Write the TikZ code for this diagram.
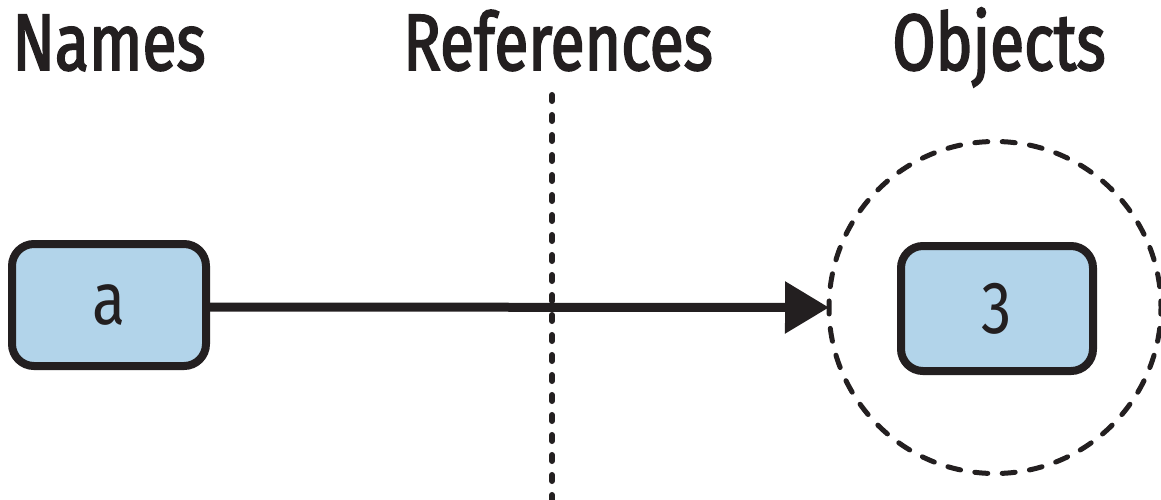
\documentclass[tikz,border=0pt]{standalone}
\usepackage{fontspec}
\setmainfont[FakeStretch=0.82]{Fira Sans}
\newfontfamily\titlefont[FakeStretch=0.78,FakeBold=2.2]{Fira Sans}
\usetikzlibrary{arrows.meta}
\definecolor{boxblue}{HTML}{B2D4EA}
\definecolor{ink}{HTML}{231F20}
\tikzset{
  title/.style={anchor=base, inner sep=0pt, text=ink, font=\titlefont\fontsize{80}{90}\selectfont},
  valbox/.style={draw=ink, fill=boxblue, line width=8pt, rounded corners=22pt, inner sep=0pt, text=ink, font=\fontsize{74}{80}\selectfont},
  objring/.style={draw=ink, circle, line width=5pt, line cap=round, inner sep=0pt, outer sep=0pt, dash pattern=on 13pt off 14.45pt, dash phase=6.5pt},
  refline/.style={draw=ink, line width=6pt, line cap=round, dash pattern=on 6pt off 14pt},
  refarrow/.style={draw=ink, line width=9pt, -{Triangle[length=44pt,width=50pt]}}
}
\begin{document}
\begin{tikzpicture}[x=1pt,y=-1pt]
\useasboundingbox (0,0) rectangle (1161,499);
\node[title] (names) at (109,70) {Names};
\node[title] (refs) at (558,70) {References};
\node[title] (objs) at (999,70) {Objects};
\coordinate (ltop) at (552,95);
\coordinate (lbot) at (552,505);
\draw[refline] (ltop) -- (lbot);
\node[valbox, minimum width=194pt, minimum height=122pt] (a) at (109,305) {a};
\node[valbox, minimum width=192pt, minimum height=125pt] (three) at (997,308.5) {3};
\node[objring, minimum size=332pt] (obj) at (995,307.5) {};
\draw[refarrow] (a.east |- 0,307) -- (obj.west);
\end{tikzpicture}
\end{document}
